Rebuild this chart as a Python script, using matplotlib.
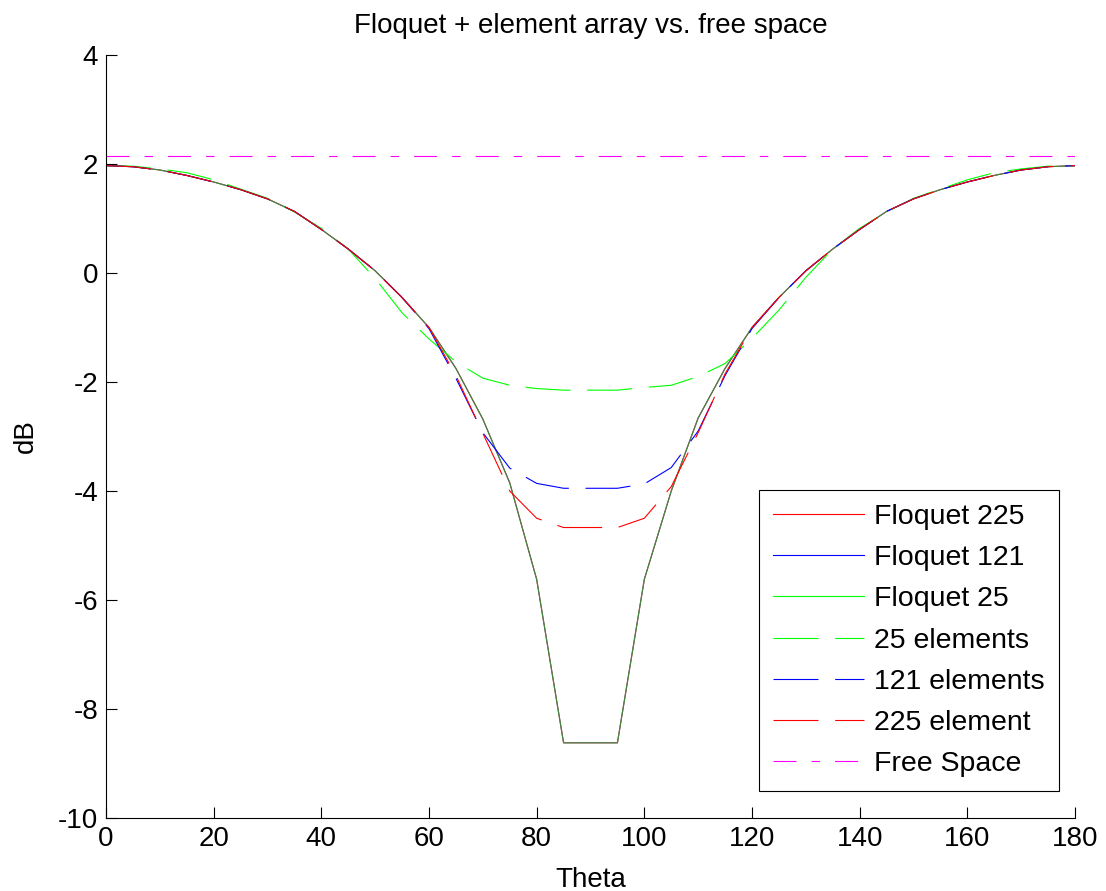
import matplotlib
matplotlib.use("Agg")
import matplotlib.pyplot as plt
from matplotlib.lines import Line2D

plt.rcParams['font.family'] = ['Liberation Sans', 'DejaVu Sans']
plt.rcParams['lines.scale_dashes'] = False
plt.rcParams['axes.unicode_minus'] = False

# Scan angle (degrees)
theta = [0, 5, 10, 15, 20, 25, 30, 35, 40, 45, 50, 55, 60, 65, 70, 75, 80, 85, 90,
         95, 100, 105, 110, 115, 120, 125, 130, 135, 140, 145, 150, 155, 160, 165,
         170, 175, 180]

# Floquet (infinite array) result, same for all three cell counts
floquet_225 = [1.97, 1.95, 1.89, 1.79, 1.67, 1.53, 1.36, 1.13, 0.80, 0.44, 0.04, -0.45,
               -1.00, -1.75, -2.68, -3.85, -5.62, -8.62, -8.62, -8.62, -5.62, -4.00,
               -2.66, -1.75, -1.00, -0.45, 0.04, 0.44, 0.80, 1.13, 1.36, 1.53, 1.67,
               1.79, 1.89, 1.95, 1.97]
floquet_121 = list(floquet_225)
floquet_25 = list(floquet_225)

# Finite arrays
elem_25 = [1.97, 1.96, 1.91, 1.84, 1.71, 1.54, 1.37, 1.12, 0.82, 0.44, -0.10, -0.73,
           -1.21, -1.63, -1.93, -2.06, -2.12, -2.15, -2.15, -2.15, -2.10, -2.06,
           -1.90, -1.66, -1.20, -0.68, -0.08, 0.44, 0.82, 1.12, 1.37, 1.54, 1.71,
           1.84, 1.91, 1.96, 1.97]
elem_121 = [1.97, 1.95, 1.89, 1.79, 1.67, 1.53, 1.36, 1.13, 0.80, 0.44, 0.04, -0.45,
            -1.02, -1.93, -2.93, -3.58, -3.86, -3.95, -3.95, -3.95, -3.87, -3.57,
            -2.90, -1.88, -1.02, -0.45, 0.04, 0.44, 0.80, 1.13, 1.36, 1.53, 1.67,
            1.79, 1.89, 1.95, 1.97]
elem_225 = [1.97, 1.95, 1.89, 1.79, 1.67, 1.53, 1.36, 1.13, 0.80, 0.44, 0.04, -0.45,
            -1.00, -1.88, -2.94, -4.00, -4.50, -4.67, -4.67, -4.67, -4.50, -3.92,
            -2.93, -1.85, -1.00, -0.45, 0.04, 0.44, 0.80, 1.13, 1.36, 1.53, 1.67,
            1.79, 1.89, 1.95, 1.97]

# Isolated element in free space
free_space = [2.14] * len(theta)

labels = ['Floquet 225', 'Floquet 121', 'Floquet 25', '25 elements',
          '121 elements', '225 element', 'Free Space']

RED, BLUE, GREEN, MAGENTA = '#ff0000', '#0000ff', '#00ff00', '#ff00ff'
LW = 0.8
DASH = (0, (32.4, 12.0))
DASHDOT = (0, (16.6, 10.8, 6.1, 10.8))
FS = 20
LEG_FS = 20.5

fig = plt.figure(figsize=(11.06, 8.91), dpi=100)
ax = fig.add_axes([0.0958, 0.0819, 0.8762, 0.8564])

ax.plot(theta, floquet_225, color=RED, lw=LW)
ax.plot(theta, floquet_121, color=BLUE, lw=LW, alpha=0.5)
ax.plot(theta, floquet_25, color=GREEN, lw=LW, alpha=0.55)
ax.plot(theta, elem_25, color=GREEN, lw=LW, linestyle=DASH)
ax.plot(theta, elem_121, color=BLUE, lw=LW, linestyle=DASH)
ax.plot(theta, elem_225, color=RED, lw=LW, linestyle=DASH)
ax.plot(theta, free_space, color=MAGENTA, lw=LW, linestyle=DASHDOT)

ax.set_xlim(0, 180)
ax.set_ylim(-10, 4)
ax.set_xticks(range(0, 181, 20))
ax.set_yticks(range(-10, 5, 2))
ax.tick_params(direction='in', length=7.7, width=0.8, labelsize=FS, pad=5.5,
               top=False, right=False)
for side in ('top', 'right'):
    ax.spines[side].set_visible(False)
for side in ('left', 'bottom'):
    ax.spines[side].set_linewidth(0.8)

ax.set_title('Floquet + element array vs. free space', fontsize=FS, pad=16)
ax.set_xlabel('Theta', fontsize=FS, labelpad=11)
ax.set_ylabel('dB', fontsize=FS, labelpad=14)

styles = ['-', '-', '-', DASH, DASH, DASH, DASHDOT]
colors = [RED, BLUE, GREEN, GREEN, BLUE, RED, MAGENTA]
handles = [Line2D([], [], color=c, lw=LW, linestyle=s) for c, s in zip(colors, styles)]
leg = ax.legend(handles, labels, loc='lower right', bbox_to_anchor=(0.9835, 0.0354),
                borderaxespad=0, fontsize=LEG_FS, fancybox=False, framealpha=1,
                edgecolor='black', handlelength=3.2, handletextpad=0.35,
                borderpad=0.5, labelspacing=0.53)
leg.get_frame().set_linewidth(0.8)

fig.savefig('out.png', dpi=100)
